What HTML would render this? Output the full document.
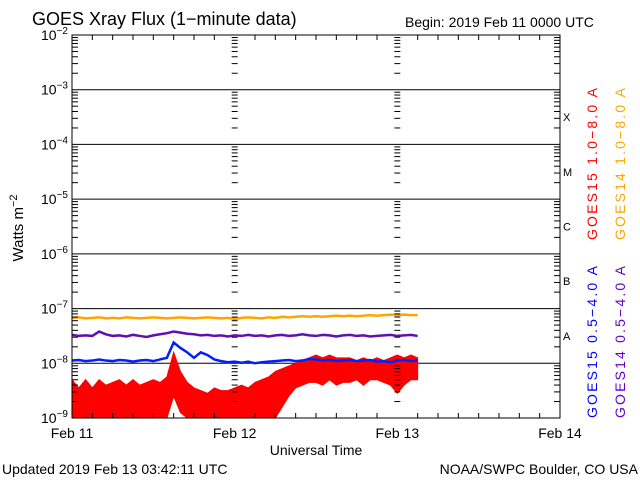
<!DOCTYPE html>
<html><head><meta charset="utf-8"><style>
body{margin:0;background:#fff;width:640px;height:480px;overflow:hidden}
svg text{font-family:"Liberation Sans",sans-serif}
</style></head><body>
<svg id="c" width="640" height="480" xmlns="http://www.w3.org/2000/svg">
<text x="32" y="25" font-size="18">GOES Xray Flux (1−minute data)</text>
<text x="405" y="27" font-size="14">Begin:  2019 Feb 11 0000 UTC</text>
<text x="2" y="474" font-size="14">Updated 2019 Feb 13 03:42:11 UTC</text>
<text x="638" y="474" font-size="14" text-anchor="end">NOAA/SWPC Boulder, CO USA</text>
<text x="316" y="455" font-size="14" text-anchor="middle">Universal Time</text>
<text transform="translate(23,228) rotate(-90)" font-size="15" text-anchor="middle">Watts m<tspan dy="-6" font-size="11">−2</tspan></text>
<g id="grid"></g><g id="series"></g><g id="axes"></g>
<g font-size="14">
<text transform="translate(597,240) rotate(-90)" fill="#f00" textLength="152">GOES15 1.0−8.0 A</text>
<text transform="translate(625,240) rotate(-90)" fill="#ffa500" textLength="152">GOES14 1.0−8.0 A</text>
<text transform="translate(597,418) rotate(-90)" fill="#00f" textLength="152">GOES15 0.5−4.0 A</text>
<text transform="translate(625,418) rotate(-90)" fill="#60c" textLength="152">GOES14 0.5−4.0 A</text>
</g>
</svg>
<script>
const decadeLabels=[-2,-3,-4,-5,-6,-7,-8,-9];
const dayLabels=["Feb 11","Feb 12","Feb 13","Feb 14"];
const classLetters=["X","M","C","B","A"];
const hours=[0,1,2,3,4,5,6,7,8,9,10,11,12,13,14,15,16,17,18,19,20,21,22,23,24,25,26,27,28,29,30,31,32,33,34,35,36,37,38,39,40,41,42,43,44,45,46,47,48,49,50,51];
const orange=[-7.17,-7.16,-7.18,-7.17,-7.16,-7.18,-7.17,-7.18,-7.16,-7.17,-7.18,-7.17,-7.16,-7.17,-7.18,-7.17,-7.16,-7.17,-7.18,-7.17,-7.16,-7.17,-7.18,-7.17,-7.19,-7.17,-7.16,-7.17,-7.18,-7.16,-7.17,-7.15,-7.16,-7.15,-7.14,-7.15,-7.14,-7.15,-7.14,-7.13,-7.14,-7.13,-7.14,-7.13,-7.12,-7.13,-7.12,-7.11,-7.12,-7.11,-7.12,-7.12];
const purple=[-7.48,-7.5,-7.49,-7.5,-7.42,-7.47,-7.5,-7.49,-7.51,-7.48,-7.5,-7.52,-7.49,-7.47,-7.45,-7.42,-7.44,-7.46,-7.47,-7.49,-7.48,-7.5,-7.49,-7.51,-7.49,-7.5,-7.48,-7.5,-7.49,-7.51,-7.49,-7.48,-7.5,-7.49,-7.47,-7.49,-7.5,-7.48,-7.49,-7.51,-7.49,-7.48,-7.5,-7.49,-7.51,-7.5,-7.49,-7.48,-7.5,-7.49,-7.48,-7.5];
const blue=[-7.95,-7.94,-7.96,-7.95,-7.93,-7.95,-7.96,-7.94,-7.95,-7.97,-7.95,-7.94,-7.96,-7.93,-7.9,-7.62,-7.72,-7.8,-7.9,-7.8,-7.85,-7.93,-7.96,-7.98,-7.97,-7.99,-7.97,-8.0,-7.98,-7.97,-7.96,-7.95,-7.94,-7.96,-7.95,-7.92,-7.93,-7.95,-7.94,-7.96,-7.95,-7.94,-7.96,-7.95,-7.94,-7.97,-7.96,-7.98,-7.95,-7.94,-7.96,-7.95];
const redMax=[-8.3,-8.45,-8.3,-8.45,-8.3,-8.4,-8.35,-8.3,-8.4,-8.3,-8.4,-8.35,-8.3,-8.35,-8.25,-7.8,-8.15,-8.35,-8.45,-8.5,-8.55,-8.45,-8.5,-8.5,-8.45,-8.4,-8.45,-8.35,-8.3,-8.25,-8.15,-8.1,-8.05,-8.0,-7.95,-7.9,-7.85,-7.9,-7.85,-7.9,-7.9,-7.9,-7.95,-7.9,-7.95,-7.9,-7.95,-7.9,-7.85,-7.9,-7.85,-7.9];
const redMin=[-9,-9,-9,-9,-9,-9,-9,-9,-9,-9,-9,-9,-9,-9,-9,-8.6,-8.9,-9,-9,-9,-9,-9,-9,-9,-9,-9,-9,-9,-9,-9,-9,-8.8,-8.6,-8.45,-8.4,-8.35,-8.35,-8.4,-8.3,-8.4,-8.35,-8.35,-8.3,-8.4,-8.3,-8.3,-8.35,-8.4,-8.55,-8.4,-8.3,-8.3];
const X0=72,X1=560,Y0=35,Y1=418;
const xs=h=>X0+(X1-X0)*h/72;
const ys=l=>Y0+(Y1-Y0)*(-2-l)/7;
const NS="http://www.w3.org/2000/svg";
function mk(tag,attrs,parent){const e=document.createElementNS(NS,tag);for(const k in attrs)e.setAttribute(k,attrs[k]);parent.appendChild(e);return e;}
const grid=document.getElementById('grid'),axes=document.getElementById('axes'),ser=document.getElementById('series');
mk('rect',{x:X0,y:Y0,width:X1-X0,height:Y1-Y0,fill:'none',stroke:'#000','stroke-width':1},axes);
decadeLabels.forEach((d,i)=>{
 const y=ys(d);
 if(i>0&&i<7){const l=mk('line',{x1:X0,x2:X1,y1:y,y2:y,stroke:'#000'},grid);
 
 }
 const t=mk('text',{x:X0-4,y:y+5,'font-size':14,'text-anchor':'end'},axes);
 
 
 t.innerHTML='10<tspan dy="-6" font-size="10">'+(d<0?'−':'')+Math.abs(d)+'</tspan>';
 if(i<7){for(let m=2;m<=9;m++){const yy=ys(d-1+Math.log10(m));
  [X0,xs(24),xs(48)].forEach(x=>mk('line',{x1:x-(x===X0?0:3),x2:x+(x===X0?6:3),y1:yy,y2:yy,stroke:'#000'},axes));
  mk('line',{x1:X1-6,x2:X1,y1:yy,y2:yy,stroke:'#000'},axes);}}
});
for(let h=3;h<72;h+=3){const x=xs(h);const L=h%24===0?0:5;
 if(L){mk('line',{x1:x,x2:x,y1:Y0,y2:Y0+L,stroke:'#000'},axes);mk('line',{x1:x,x2:x,y1:Y1,y2:Y1-L,stroke:'#000'},axes);}}
dayLabels.forEach((d,i)=>{const t=mk('text',{x:xs(24*i),y:438,'font-size':14,'text-anchor':'middle'},axes);
 
 
 t.textContent=d;});
classLetters.forEach((c,i)=>{const t=mk('text',{x:563,y:ys(-3-i-0.5)+4,'font-size':11,'font-family':'Liberation Serif'},axes);
 
 
 t.textContent=c;});
let band='';hours.forEach((h,i)=>band+=(i?'L':'M')+xs(h)+','+ys(redMax[i]));
for(let i=hours.length-1;i>=0;i--)band+='L'+xs(hours[i])+','+ys(redMin[i]);
const rb=mk('path',{d:band+'Z',fill:'#f00',stroke:'#f00'},ser);


function line(arr,col,name){const p=mk('polyline',{points:hours.map((h,i)=>xs(h)+','+ys(arr[i])).join(' '),fill:'none',stroke:col,'stroke-width':2.5},ser);
 
 }
line(orange,'#ffa500','goes14-long-series');
line(purple,'#6010b0','goes14-short-series');
line(blue,'#0020ff','goes15-short-series');
</script>
</body></html>
